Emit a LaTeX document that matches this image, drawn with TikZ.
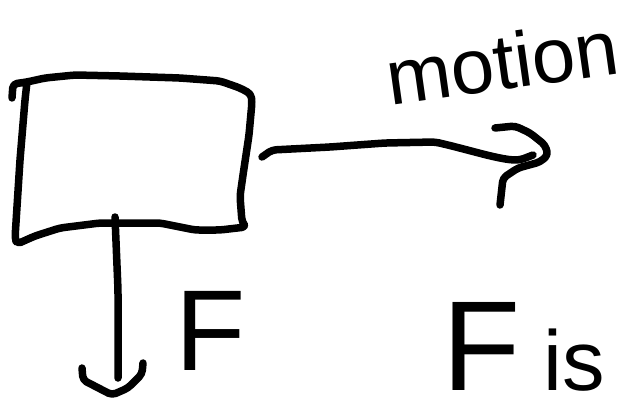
\documentclass[tikz,border=0pt]{standalone}
\usepackage{fontspec}
\setmainfont{Liberation Sans}
\begin{document}
\begin{tikzpicture}[x=1pt,y=-1pt,
  ink/.style={line width=7.5pt,line cap=round,line join=round,rounded corners=4pt},
  hand/.style={inner sep=0pt,outer sep=0pt}]
\useasboundingbox (0,0) rectangle (636,398);
% box
\draw[ink] (12,98) -- (13,84) -- (27,82) -- (45,78) -- (75,75) -- (120,76) -- (180,78)
  -- (220,81) -- (240,88) -- (251,94) -- (252,102) -- (249,135) -- (243,175) -- (240,196)
  -- (242,222) -- (246,227) -- (220,230) -- (195,230) -- (160,223) -- (100,223)
  -- (60,228) -- (35,236) -- (17,244) -- (15,238) -- (20,160) -- (25,100) -- (27,82);
\coordinate (boxR) at (262,157);
\coordinate (boxB) at (115,217);
\coordinate (motEnd) at (533,155);
\coordinate (fEnd) at (118,378);
% motion arrow
\draw[ink] (boxR) -- (272,150) -- (330,147) -- (385,143) -- (435,142)
  .. controls (470,150) and (500,160) .. (520,160) -- (motEnd);
\draw[ink] (495,128) -- (515,126) -- (530,133) -- (545,145) -- (548,155) -- (540,162)
  -- (518,168) -- (503,178) -- (500,205);
% force arrow
\draw[ink] (boxB) -- (118,290) -- (fEnd);
\draw[ink] (82,368) -- (83,380) -- (112,395) -- (128,388) -- (142,374) -- (143,363);
% labels
\node[hand,anchor=base west,rotate=8] (motion) at (390,106)
  {\fontsize{78}{78}\selectfont motion};
\node[hand,anchor=base west] (F) at (175,370)
  {\fontsize{115}{115}\selectfont F};
\node[hand,anchor=base west] (Fis) at (442,390)
  {\fontsize{128}{128}\selectfont F\fontsize{85}{85}\selectfont{} is};
\end{tikzpicture}
\end{document}
